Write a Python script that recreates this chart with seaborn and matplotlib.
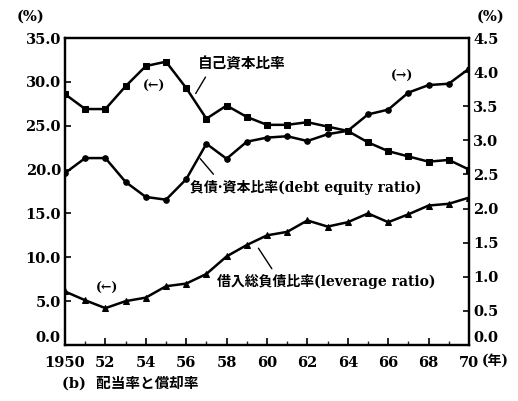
import matplotlib
matplotlib.use("Agg")
import matplotlib.pyplot as plt
from matplotlib.ticker import MultipleLocator, FixedLocator, FormatStrFormatter
import seaborn as sns
import pandas as pd

years = list(range(1950, 1971))
equity_ratio = [28.6, 26.9, 26.9, 29.5, 31.8, 32.3, 29.3, 25.8, 27.3, 26.0, 25.1,
                25.1, 25.4, 24.9, 24.4, 23.1, 22.1, 21.5, 20.9, 21.1, 20.0]
debt_equity = [2.52, 2.74, 2.74, 2.39, 2.17, 2.13, 2.43, 2.95, 2.73, 2.98, 3.04,
               3.06, 2.99, 3.09, 3.14, 3.38, 3.45, 3.70, 3.81, 3.83, 4.05]
leverage = [6.1, 5.1, 4.2, 5.0, 5.4, 6.7, 7.0, 8.1, 10.1, 11.4, 12.5,
            12.9, 14.2, 13.5, 14.0, 15.0, 14.0, 14.9, 15.9, 16.1, 16.8]
left_ticks = [0, 5, 10, 15, 20, 25, 30, 35]
right_ticks = [0.0, 0.5, 1.0, 1.5, 2.0, 2.5, 3.0, 3.5, 4.0, 4.5]
x_tick_years = list(range(1950, 1971, 2))
x_tick_labels = ["1950", "52", "54", "56", "58", "60", "62", "64", "66", "68", "70"]

sns.set_theme(style="white")
plt.rcParams['font.family'] = ['DejaVu Serif', 'Noto Sans CJK JP']
plt.rcParams['font.weight'] = 'bold'

df = pd.DataFrame({"year": years, "equity": equity_ratio,
                   "de": debt_equity, "lev": leverage})

fig = plt.figure(figsize=(5.18, 4.01), dpi=100)
ax = fig.add_axes([65/518, 56/401, 404/518, 307/401])
ax2 = ax.twinx()

lw = 1.8
sns.lineplot(data=df, x="year", y="equity", ax=ax, color="black", lw=lw,
             marker="s", markersize=4.2, markeredgecolor="black")
sns.lineplot(data=df, x="year", y="lev", ax=ax, color="black", lw=lw,
             marker="^", markersize=4.5, markeredgecolor="black")
sns.lineplot(data=df, x="year", y="de", ax=ax2, color="black", lw=lw,
             marker="o", markersize=4.0, markeredgecolor="black")

ax.set_xlim(1950, 1970)
ax.set_ylim(0, 35)
ax2.set_ylim(0, 4.5)
ax.set_xlabel("")
ax.set_ylabel("")
ax2.set_ylabel("")

ax.xaxis.set_major_locator(FixedLocator(x_tick_years))
ax.set_xticklabels(x_tick_labels)
ax.xaxis.set_minor_locator(MultipleLocator(1))
ax.set_yticks(left_ticks)
ax.yaxis.set_major_formatter(FormatStrFormatter("%.1f"))
ax2.set_yticks(right_ticks)
ax2.yaxis.set_major_formatter(FormatStrFormatter("%.1f"))

for a in (ax, ax2):
    for s in a.spines.values():
        s.set_color("black")
        s.set_linewidth(1.6)
ax.tick_params(axis="x", which="major", direction="in", length=5, width=1.2,
               labelsize=10.5, pad=8, colors="black", bottom=True)
ax.tick_params(axis="x", which="minor", direction="in", length=3, width=1.0, bottom=True)
ax.tick_params(axis="y", which="major", direction="in", length=4, width=1.2,
               labelsize=10.5, pad=3, colors="black", left=True)
ax2.tick_params(axis="y", which="major", direction="in", length=4, width=1.2,
                labelsize=10.5, pad=3, colors="black", right=True)
for lab in ax.get_xticklabels() + ax.get_yticklabels() + ax2.get_yticklabels():
    lab.set_fontweight("bold")
for lab in ax.get_yticklabels()[:1] + ax2.get_yticklabels()[:1]:
    lab.set_verticalalignment("bottom")

tk = dict(fontweight="bold", color="black")
fig.text(30/518, 1 - 17/401, "(%)", ha="center", va="center", fontsize=10.5, **tk)
fig.text(491/518, 1 - 17/401, "(%)", ha="center", va="center", fontsize=10.5, **tk)
fig.text(495/518, 1 - 361/401, "(年)", ha="center", va="center", fontsize=10, **tk)
fig.text(62/518, 1 - 383/401, "(b)  配当率と償却率", ha="left", va="center",
         fontsize=10.5, **tk)

ax.annotate("自己資本比率", xy=(1956.4, 28.4), xytext=(1956.6, 32.0),
            textcoords="data", ha="left", va="center", fontsize=10.5,
            arrowprops=dict(arrowstyle="-", color="black", lw=1.0,
                            relpos=(0.12, 0.0)), **tk)
ax.annotate("負債·資本比率(debt equity ratio)", xy=(1956.6, 21.5), xytext=(1956.2, 18.0),
            textcoords="data", ha="left", va="center", fontsize=10,
            arrowprops=dict(arrowstyle="-", color="black", lw=1.0,
                            relpos=(0.12, 1.0)), **tk)
ax.annotate("借入総負債比率(leverage ratio)", xy=(1959.5, 11.3), xytext=(1957.5, 7.2),
            textcoords="data", ha="left", va="center", fontsize=10,
            arrowprops=dict(arrowstyle="-", color="black", lw=1.0,
                            relpos=(0.27, 1.0)), **tk)
ax.text(1954.4, 29.5, "(←)", ha="center", va="center", fontsize=9, **tk)
ax.text(1952.1, 6.5, "(←)", ha="center", va="center", fontsize=9, **tk)
ax.text(1966.7, 30.6, "(→)", ha="center", va="center", fontsize=9, **tk)

fig.savefig("out.png", dpi=100, facecolor="white")
